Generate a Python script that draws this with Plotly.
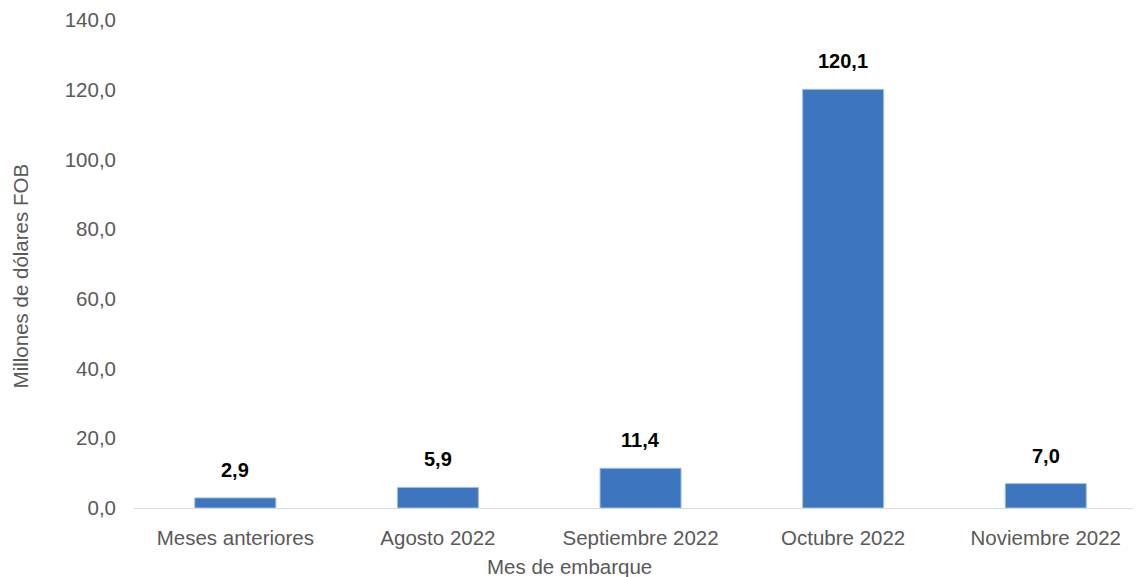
import plotly.graph_objects as go

categories = ["Meses anteriores", "Agosto 2022", "Septiembre 2022", "Octubre 2022", "Noviembre 2022"]
values = [2.9, 5.9, 11.4, 120.1, 7.0]
y_ticks = [0, 20, 40, 60, 80, 100, 120, 140]

FONT = "Liberation Sans, Arial"
GRAY = "#595959"
TS = 20.5

fig = go.Figure()
fig.add_trace(go.Bar(
    x=categories, y=values,
    marker=dict(color="#3D76BF", line=dict(color="#9CC0EA", width=1)),
    width=0.4,
    hoverinfo="x+y",
))

for c, v in zip(categories, values):
    fig.add_annotation(
        x=c, y=v, text="<b>" + f"{v:.1f}".replace(".", ",") + "</b>",
        showarrow=False, yanchor="bottom", yshift=15,
        font=dict(family=FONT, size=20, color="#000000"),
    )

# axis titles (placed as in the reference)
fig.add_annotation(
    text="Millones de dólares FOB", textangle=-90,
    xref="paper", yref="paper", x=-0.113, y=0.475,
    xanchor="center", yanchor="middle", showarrow=False,
    font=dict(family=FONT, size=TS, color=GRAY),
)
fig.add_annotation(
    text="Mes de embarque",
    xref="paper", yref="paper", x=0.432, y=-0.119,
    xanchor="center", yanchor="middle", showarrow=False,
    font=dict(family=FONT, size=TS, color=GRAY),
)

fig.update_layout(
    width=1133, height=569,
    margin=dict(l=126, r=0, t=12, b=69),
    paper_bgcolor="white", plot_bgcolor="white",
    separators=",.",
    showlegend=False,
    font=dict(family=FONT, size=TS, color=GRAY),
    xaxis=dict(
        showline=True, linecolor="#D9D9D9", linewidth=1,
        ticks="", showgrid=False, automargin=False,
        range=[-0.5, 4.47],
        ticklabelstandoff=11,
        tickfont=dict(size=TS, color=GRAY),
    ),
    yaxis=dict(
        range=[0, 140], tickvals=y_ticks, tickformat=".1f",
        showgrid=False, zeroline=False, showline=False, ticks="",
        automargin=False, ticklabelstandoff=17,
        tickfont=dict(size=TS, color=GRAY),
    ),
)

fig.write_html("out.html")
